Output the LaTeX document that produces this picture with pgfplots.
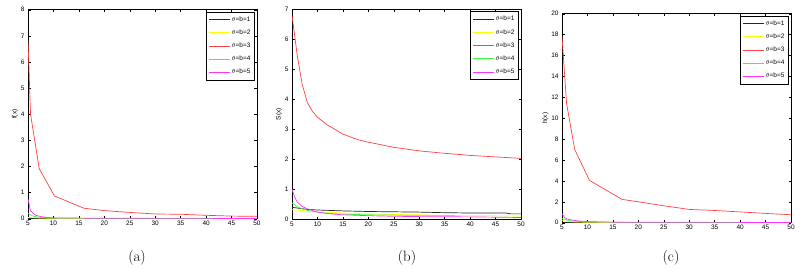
\documentclass[border=0pt]{standalone}
\usepackage{pgfplots}
\pgfplotsset{compat=1.18}
\usepackage{fontspec}
\newfontfamily\arialf{Liberation Sans}
\definecolor{cblk}{rgb}{0.15,0.15,0.15}
\definecolor{cyel}{rgb}{1,1,0}
\definecolor{cred}{rgb}{1,0.25,0.25}
\definecolor{cgrn}{rgb}{0.2,1,0.2}
\definecolor{cmag}{rgb}{1,0.2,1}
\pgfplotsset{
  mystyle/.style={
    scale only axis, width=229bp, height=209bp,
    xmin=5, xmax=50, xtick={5,10,...,50},
    tick align=inside, major tick length=2.5bp,
    tick label style={font=\arialf\fontsize{6.5}{7}\selectfont},
    /pgf/number format/assume math mode=true,
    label style={font=\arialf\fontsize{6.5}{7}\selectfont},
    axis line style={line width=0.5pt},
    every tick/.style={line width=0.4pt, black},
    legend cell align=left,
    legend style={at={(0.99,0.99)}, anchor=north east, font=\arialf\fontsize{6.5}{7}\selectfont,
      draw=black, line width=0.5pt, inner xsep=2bp, inner ysep=2.5bp, row sep=3bp},
    legend image code/.code={\draw[#1] (0bp,0bp) -- (21bp,0bp);},
    every axis plot/.append style={line width=0.7pt, mark=none},
    ylabel shift=-4bp,
    xticklabel shift=-1bp,
  }
}
\begin{document}
\begin{tikzpicture}
\useasboundingbox (0bp,0bp) rectangle (810bp,273bp);
% (a)
\begin{axis}[mystyle, at={(28bp,54.3bp)}, anchor=south west, ymin=0, ymax=8, ytick={0,1,...,8}, ylabel={f(x)}]
\addplot[cblk] coordinates {(5,0.012) (7,0.008) (10,0.004) (20,0.002) (50,0.001)};
\addplot[cyel] coordinates {(5,0.05) (6,0.04) (7,0.03) (10,0.012) (20,0.004) (50,0.001)};
\addplot[cred] coordinates {(5,6.83) (5.5,4.0) (7.2,1.92) (10.2,0.87) (16,0.4) (20,0.31) (25,0.24) (30,0.18) (35,0.17) (40,0.13) (45,0.10) (50,0.09)};
\addplot[cgrn] coordinates {(5,0.2) (6,0.1) (7,0.06) (8,0.04) (10,0.02) (20,0.008) (50,0.004)};
\addplot[cmag] coordinates {(5,0.76) (5.5,0.3) (6.5,0.13) (8,0.06) (10,0.03) (20,0.015) (50,0.01)};
\legend{$\theta$=b=1,$\theta$=b=2,$\theta$=b=3,$\theta$=b=4,$\theta$=b=5}
\end{axis}
% (b)
\begin{axis}[mystyle, at={(292bp,53.7bp)}, anchor=south west, height=210bp, ymin=0, ymax=7, ytick={0,1,...,7}, ylabel={S(x)}]
\addplot[cblk] coordinates {(5,0.40) (8,0.33) (10,0.31) (15,0.28) (20,0.26) (25,0.25) (30,0.24) (35,0.22) (40,0.21) (47,0.21) (48,0.18) (50,0.18)};
\addplot[cyel] coordinates {(5,0.32) (7,0.29) (10,0.25) (15,0.21) (20,0.18) (25,0.16) (30,0.15) (35,0.13) (40,0.12) (45,0.115) (50,0.11)};
\addplot[cred] coordinates {(5,6.8) (6,5.5) (7,4.5) (8,3.9) (9,3.6) (10,3.4) (12,3.14) (15,2.84) (18,2.65) (20,2.57) (25,2.4) (30,2.28) (35,2.2) (40,2.13) (45,2.08) (50,2.03)};
\addplot[cgrn] coordinates {(5,0.55) (6,0.42) (7,0.35) (8,0.3) (10,0.24) (12,0.2) (15,0.17) (20,0.15) (25,0.14) (30,0.13) (37,0.13)};
\addplot[cmag] coordinates {(5,1.0) (5.5,0.75) (6,0.58) (7,0.43) (8,0.35) (10,0.24) (12,0.19) (15,0.15) (20,0.12) (25,0.1) (30,0.09) (40,0.08) (50,0.06)};
\legend{$\theta$=b=1,$\theta$=b=2,$\theta$=b=3,$\theta$=b=4,$\theta$=b=5}
\end{axis}
% (c)
\begin{axis}[mystyle, at={(562bp,50.3bp)}, anchor=south west, ymin=0, ymax=20, ytick={0,2,...,20}, ylabel={h(x)}]
\addplot[cblk] coordinates {(5,0.03) (8,0.02) (10,0.01) (50,0.005)};
\addplot[cyel] coordinates {(5,0.2) (6,0.12) (7,0.08) (10,0.04) (14,0.02) (50,0.01)};
\addplot[cred] coordinates {(5,17.8) (5.9,11.4) (7.5,7.0) (10.4,4.05) (16.8,2.23) (20,2.0) (25,1.62) (30,1.27) (35,1.17) (40,1.03) (45,0.89) (50,0.76)};
\addplot[cgrn] coordinates {(5,0.4) (6,0.25) (7,0.17) (9,0.1) (14,0.05) (20,0.02) (50,0.01)};
\addplot[cmag] coordinates {(5,0.85) (5.5,0.5) (6,0.35) (7,0.25) (8,0.18) (10,0.1) (15,0.05) (50,0.02)};
\legend{$\theta$=b=1,$\theta$=b=2,$\theta$=b=3,$\theta$=b=4,$\theta$=b=5}
\end{axis}
\node[font=\fontsize{15}{17}\selectfont] at (137bp,15bp) {(a)};
\node[font=\fontsize{15}{17}\selectfont] at (407bp,15bp) {(b)};
\node[font=\fontsize{15}{17}\selectfont] at (671bp,15bp) {(c)};
\end{tikzpicture}
\end{document}
